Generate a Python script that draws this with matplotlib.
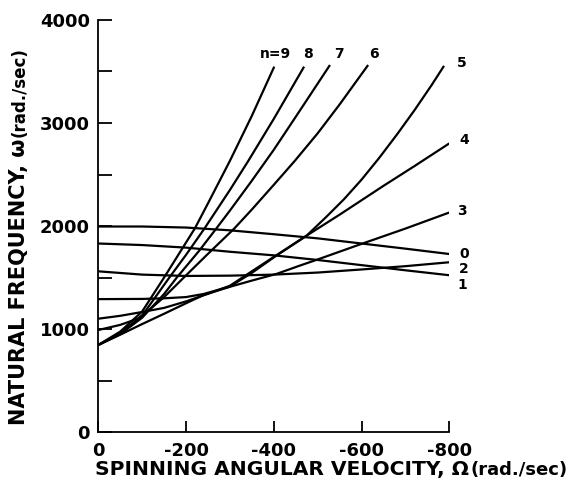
import matplotlib
matplotlib.use("Agg")
import matplotlib.pyplot as plt

plt.rcParams['font.family'] = ['DejaVu Sans']
plt.rcParams['axes.unicode_minus'] = False

# ---------------- data ----------------
# spinning angular velocity Omega (rad/sec) and natural frequency omega (rad/sec)
omega_n0 = [0, -100, -200, -300, -400, -500, -600, -700, -800]
freq_n0 = [1995, 1995, 1985, 1958, 1920, 1880, 1830, 1780, 1728]

omega_n1 = [0, -100, -200, -300, -400, -500, -600, -700, -800]
freq_n1 = [1830, 1815, 1790, 1750, 1715, 1670, 1620, 1570, 1522]

omega_n2 = [0, -100, -200, -300, -400, -500, -600, -700, -800]
freq_n2 = [1560, 1528, 1515, 1518, 1528, 1548, 1578, 1610, 1648]

omega_n3 = [0, -50, -100, -150, -200, -240, -300, -350, -407, -459, -500, -589, -700, -800]
freq_n3 = [845, 945, 1048, 1148, 1250, 1330, 1410, 1470, 1536, 1615, 1675, 1810, 1975, 2131]

omega_n4 = [0, -50, -100, -150, -200, -250, -300, -350, -400, -475, -550, -600, -650, -720, -800]
freq_n4 = [1100, 1128, 1165, 1205, 1268, 1342, 1420, 1560, 1700, 1907, 2110, 2250, 2390, 2580, 2802]

omega_n5 = [0, -100, -150, -200, -240, -300, -350, -400, -475, -520, -560, -600, -640, -681, -720, -760, -788]
freq_n5 = [1290, 1292, 1298, 1310, 1340, 1412, 1545, 1695, 1907, 2090, 2260, 2450, 2660, 2890, 3120, 3370, 3555]

omega_n6 = [0, -50, -90, -120, -150, -195, -250, -310, -350, -400, -448, -500, -550, -615]
freq_n6 = [990, 1040, 1100, 1200, 1310, 1500, 1730, 1976, 2160, 2400, 2633, 2900, 3180, 3563]

omega_n7 = [0, -50, -100, -150, -179, -230, -269, -300, -350, -400, -450, -528]
freq_n7 = [845, 950, 1110, 1340, 1500, 1760, 1976, 2150, 2440, 2740, 3060, 3563]

omega_n8 = [0, -50, -100, -162, -200, -242, -300, -342, -400, -469]
freq_n8 = [845, 960, 1130, 1500, 1720, 1976, 2350, 2633, 3040, 3547]

omega_n9 = [0, -50, -100, -150, -220, -250, -300, -350, -401]
freq_n9 = [845, 975, 1170, 1500, 1976, 2220, 2633, 3070, 3547]

curve_names = ['0', '1', '2', '3', '4', '5', '6', '7', '8', '9']
curve_omegas = [omega_n0, omega_n1, omega_n2, omega_n3, omega_n4,
                omega_n5, omega_n6, omega_n7, omega_n8, omega_n9]
curve_freqs = [freq_n0, freq_n1, freq_n2, freq_n3, freq_n4,
               freq_n5, freq_n6, freq_n7, freq_n8, freq_n9]

x_ticks = [0, -200, -400, -600, -800]
x_tick_labels = ['0', '-200', '-400', '-600', '-800']
y_ticks = [0, 500, 1000, 1500, 2000, 2500, 3000, 3500, 4000]
y_tick_labels = ['0', '', '1000', '', '2000', '', '3000', '', '4000']

# curve label texts and their anchor points (annotation layout)
label_texts = ['n=9', '8', '7', '6', '5', '4', '3', '0', '2', '1']
label_x = [-440, -477, -548, -629, -829, -833, -829, -833, -833, -829]
label_y = [3669, 3669, 3669, 3669, 3579, 2834, 2147, 1726, 1587, 1425]
label_ha = ['right', 'center', 'center', 'center', 'center', 'center',
            'center', 'center', 'center', 'center']

# ---------------- figure ----------------
W, H = 567, 484
fig = plt.figure(figsize=(W / 100, H / 100), dpi=100)
ax = fig.add_axes([98.3 / W, 1 - 432 / H, (449.3 - 98.3) / W, (432 - 20) / H])

for xs, ys in zip(curve_omegas, curve_freqs):
    ax.plot(xs, ys, color='black', lw=1.6, solid_joinstyle='round',
            solid_capstyle='butt')

ax.set_xlim(0, -800)
ax.set_ylim(0, 4000)
for s in ['top', 'right']:
    ax.spines[s].set_visible(False)
for s in ['left', 'bottom']:
    ax.spines[s].set_linewidth(1.3)

ax.set_xticks(x_ticks)
ax.set_xticklabels(x_tick_labels)
ax.set_yticks(y_ticks)
ax.set_yticklabels(y_tick_labels)
ax.tick_params(axis='both', direction='in', width=1.3, labelsize=13)
ax.tick_params(axis='y', length=10, pad=6)
ax.tick_params(axis='x', length=8, pad=7.5)
for lab in ax.get_xticklabels() + ax.get_yticklabels():
    lab.set_fontweight('bold')

for t, lx, ly, ha in zip(label_texts, label_x, label_y, label_ha):
    ax.text(lx, ly, t, fontsize=10, fontweight='bold', ha=ha, va='center',
            clip_on=False)

# ---------------- axis titles ----------------
renderer = fig.canvas.get_renderer()

xl_main = fig.text(95 / W, 1 - 475 / H, 'SPINNING ANGULAR VELOCITY, \u03A9',
                   fontsize=14.6, fontweight='bold', ha='left', va='baseline')
bb = xl_main.get_window_extent(renderer)
fig.text((bb.x1 + 2) / W, 1 - 475 / H, '(rad./sec)', fontsize=13,
         fontweight='bold', ha='left', va='baseline')

yl_main = fig.text(25 / W, 1 - 425 / H, 'NATURAL FREQUENCY, \u03C9',
                   fontsize=15, fontweight='bold', rotation=90,
                   rotation_mode='anchor', ha='left', va='baseline')
bb = yl_main.get_window_extent(renderer)
fig.text(25 / W, (bb.y1 + 2) / H, '(rad./sec)', fontsize=12,
         fontweight='bold', rotation=90, rotation_mode='anchor',
         ha='left', va='baseline')

fig.savefig('out.png', dpi=100)
